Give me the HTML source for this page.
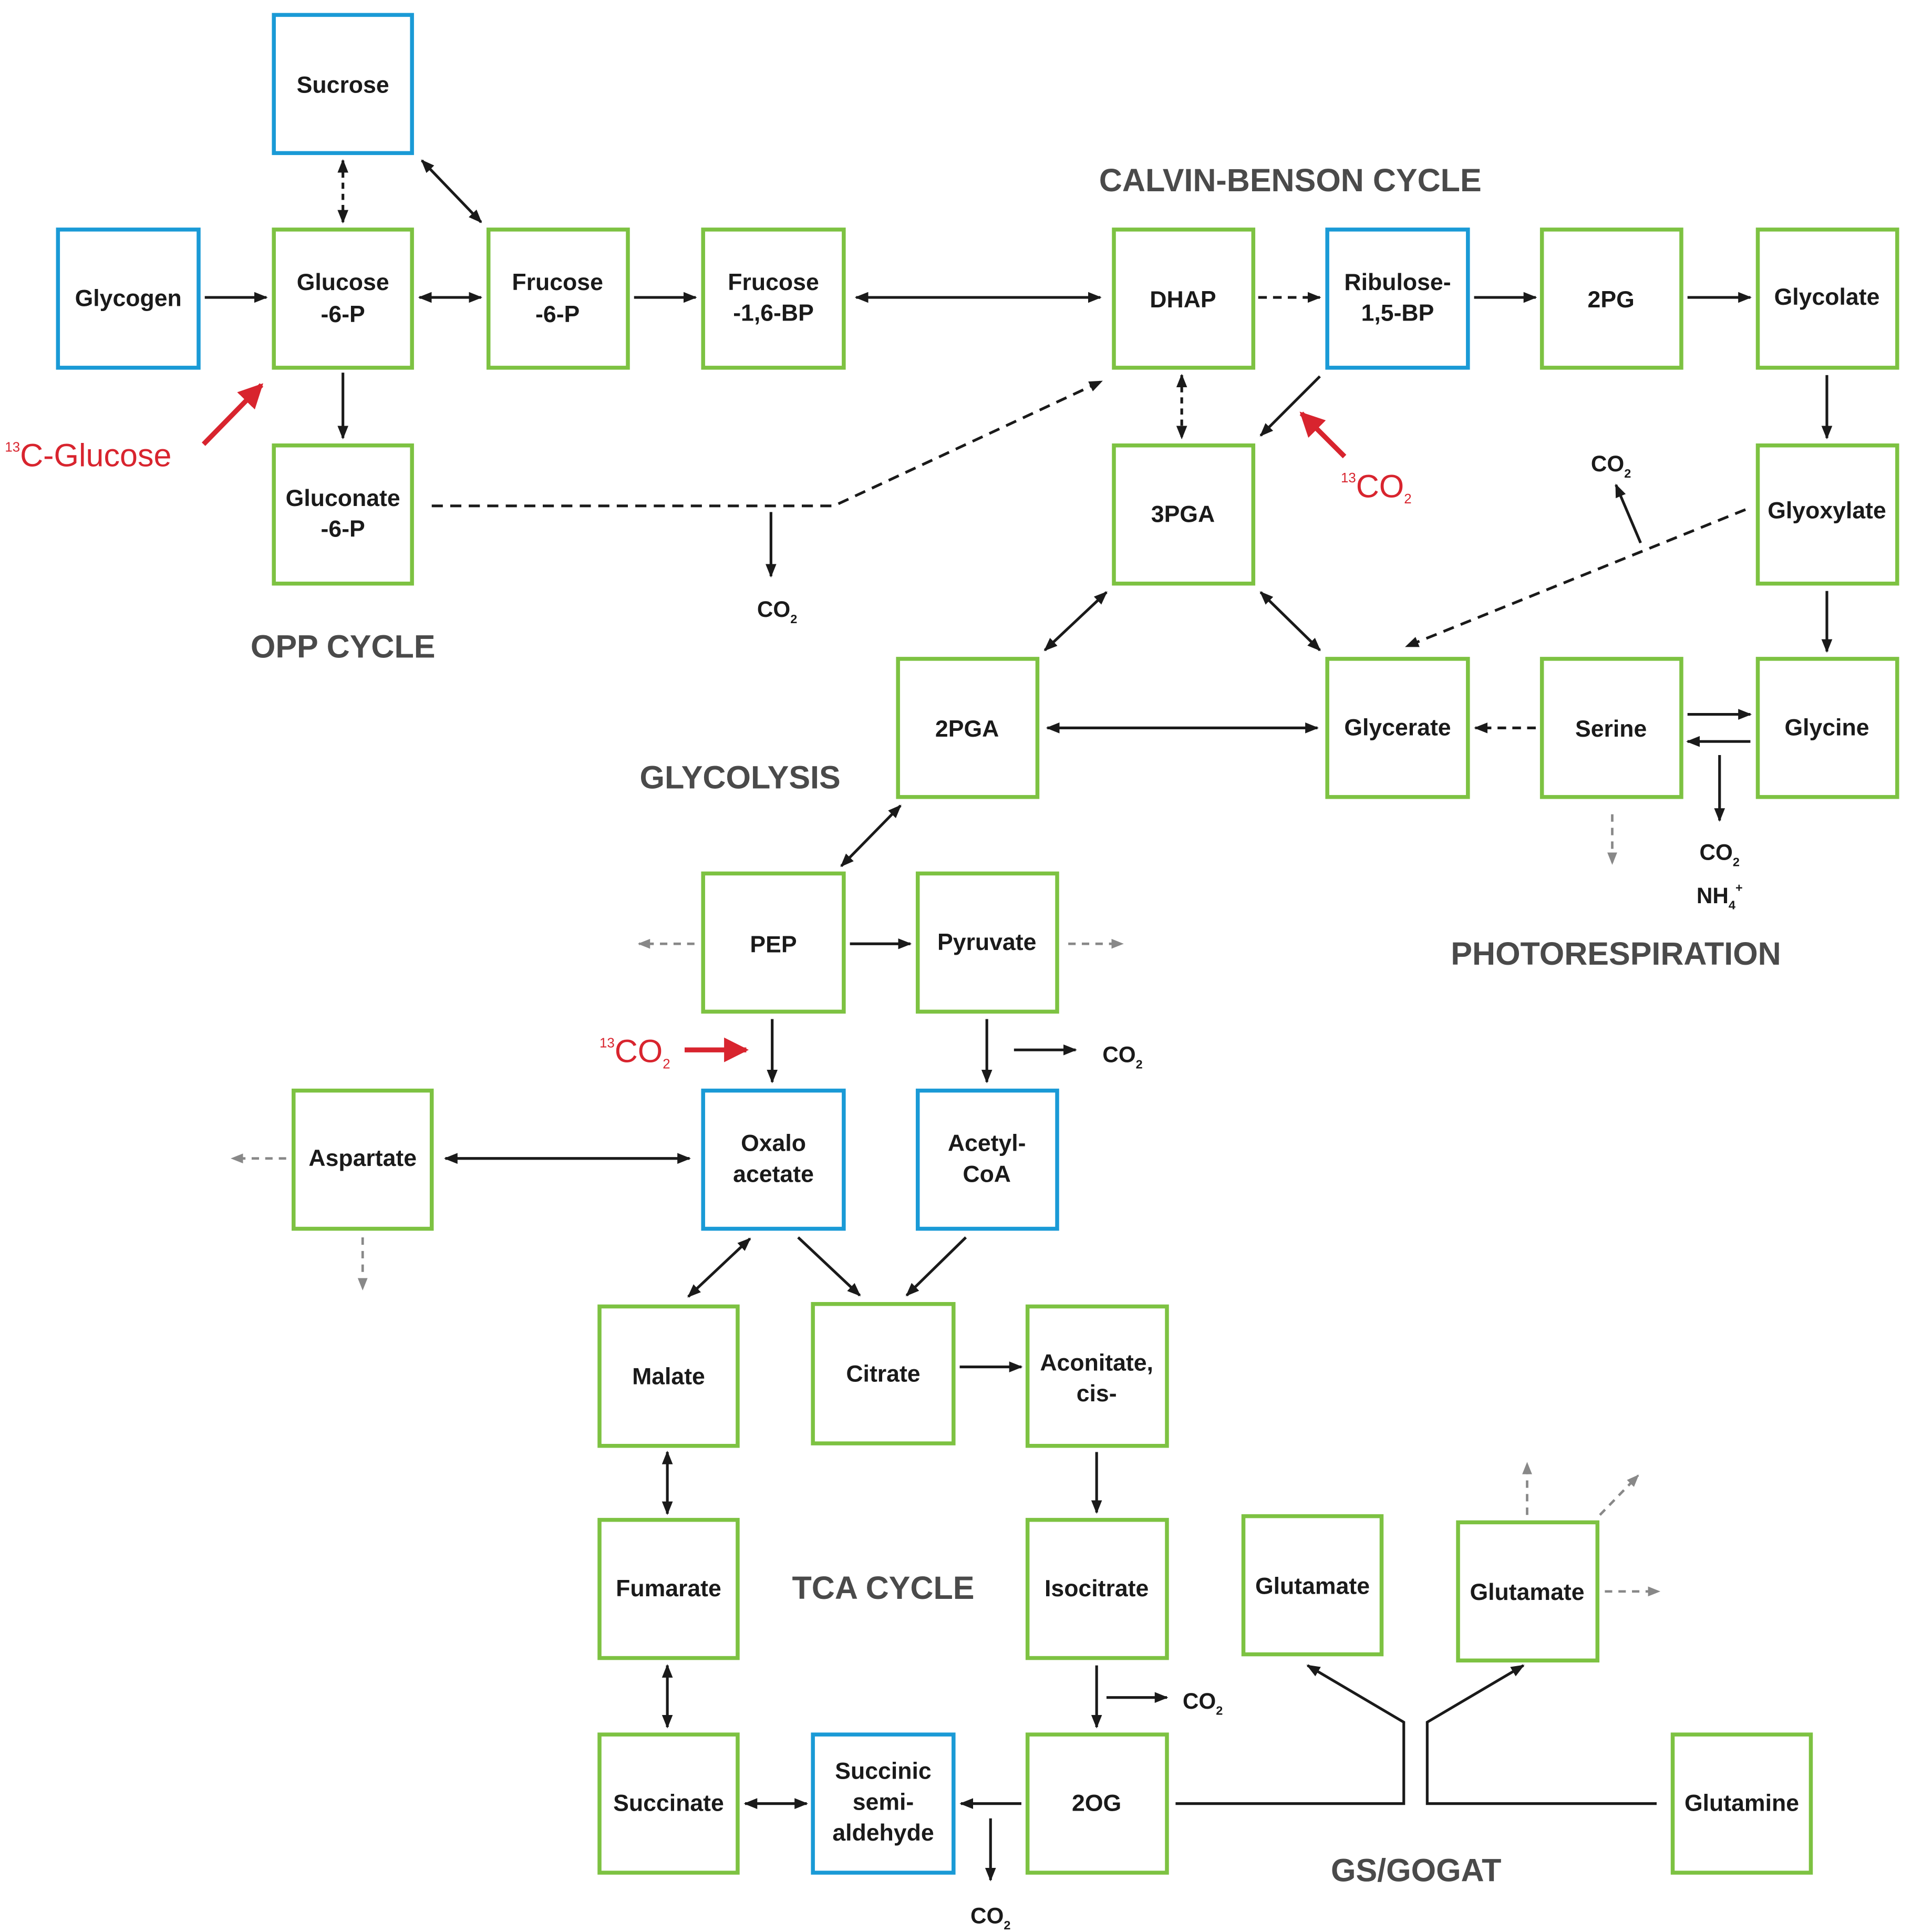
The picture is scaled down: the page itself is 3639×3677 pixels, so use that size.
<!DOCTYPE html>
<html><head><meta charset="utf-8"><style>
html,body{margin:0;padding:0;background:#fff}
svg{display:block}
.b{font-family:"Liberation Sans",Arial,sans-serif;font-weight:bold;font-size:19px;fill:#1a1a1a;text-anchor:middle}
.h{font-family:"Liberation Sans",Arial,sans-serif;font-weight:bold;font-size:26px;fill:#4a4a4a;text-anchor:middle}
.c{font-family:"Liberation Sans",Arial,sans-serif;font-weight:bold;font-size:18px;fill:#1a1a1a;text-anchor:middle}
.r{font-family:"Liberation Sans",Arial,sans-serif;font-size:26px;fill:#d8242e}
</style></head><body>
<svg width="3639" height="3677" viewBox="0 0 1550 1566" xmlns="http://www.w3.org/2000/svg">
<defs>
<marker id="a" viewBox="0 0 10 10" refX="9" refY="5" markerWidth="5" markerHeight="5" orient="auto-start-reverse"><path d="M0,1 L10,5 L0,9 z" fill="#1a1a1a"/></marker>
<marker id="g" viewBox="0 0 10 10" refX="9" refY="5" markerWidth="5" markerHeight="5" orient="auto-start-reverse"><path d="M0,1 L10,5 L0,9 z" fill="#888"/></marker>
<marker id="rr" viewBox="0 0 10 10" refX="9" refY="5" markerWidth="5" markerHeight="5" orient="auto"><path d="M0,0 L10,5 L0,10 z" fill="#d8242e"/></marker>
</defs>
<g fill="none" stroke-width="3.2">
<g stroke="#1a9ad6">
<rect x="222" y="12" width="112" height="112"/>
<rect x="47" y="186" width="114" height="112"/>
<rect x="1076" y="186" width="114" height="112"/>
<rect x="570" y="884" width="114" height="112"/>
<rect x="744" y="884" width="113" height="112"/>
<rect x="659" y="1406" width="114" height="112"/>
</g>
<g stroke="#7dc242">
<rect x="222" y="186" width="112" height="112"/>
<rect x="396" y="186" width="113" height="112"/>
<rect x="570" y="186" width="114" height="112"/>
<rect x="903" y="186" width="113" height="112"/>
<rect x="1250" y="186" width="113" height="112"/>
<rect x="1425" y="186" width="113" height="112"/>
<rect x="222" y="361" width="112" height="112"/>
<rect x="903" y="361" width="113" height="112"/>
<rect x="1425" y="361" width="113" height="112"/>
<rect x="728" y="534" width="113" height="112"/>
<rect x="1076" y="534" width="114" height="112"/>
<rect x="1250" y="534" width="113" height="112"/>
<rect x="1425" y="534" width="113" height="112"/>
<rect x="570" y="708" width="114" height="112"/>
<rect x="744" y="708" width="113" height="112"/>
<rect x="238" y="884" width="112" height="112"/>
<rect x="486" y="1059" width="112" height="113"/>
<rect x="659" y="1057" width="114" height="113"/>
<rect x="833" y="1059" width="113" height="113"/>
<rect x="486" y="1232" width="112" height="112"/>
<rect x="833" y="1232" width="113" height="112"/>
<rect x="1008" y="1229" width="112" height="112"/>
<rect x="1182" y="1234" width="113" height="112"/>
<rect x="486" y="1406" width="112" height="112"/>
<rect x="833" y="1406" width="113" height="112"/>
<rect x="1356" y="1406" width="112" height="112"/>
</g>
</g>
<text class="b" x="278" y="75">Sucrose</text>
<text class="b" x="104" y="248">Glycogen</text>
<text class="b" x="278" y="235">Glucose</text><text class="b" x="278" y="261">-6-P</text>
<text class="b" x="452" y="235">Frucose</text><text class="b" x="452" y="261">-6-P</text>
<text class="b" x="627" y="235">Frucose</text><text class="b" x="627" y="260">-1,6-BP</text>
<text class="b" x="959" y="249">DHAP</text>
<text class="b" x="1133" y="235">Ribulose-</text><text class="b" x="1133" y="260">1,5-BP</text>
<text class="b" x="1306" y="249">2PG</text>
<text class="b" x="1481" y="247">Glycolate</text>
<text class="b" x="278" y="410">Gluconate</text><text class="b" x="278" y="435">-6-P</text>
<text class="b" x="959" y="423">3PGA</text>
<text class="b" x="1481" y="420">Glyoxylate</text>
<text class="b" x="784" y="597">2PGA</text>
<text class="b" x="1133" y="596">Glycerate</text>
<text class="b" x="1306" y="597">Serine</text>
<text class="b" x="1481" y="596">Glycine</text>
<text class="b" x="627" y="772">PEP</text>
<text class="b" x="800" y="770">Pyruvate</text>
<text class="b" x="294" y="945">Aspartate</text>
<text class="b" x="627" y="933">Oxalo</text><text class="b" x="627" y="958">acetate</text>
<text class="b" x="800" y="933">Acetyl-</text><text class="b" x="800" y="958">CoA</text>
<text class="b" x="542" y="1122">Malate</text>
<text class="b" x="716" y="1120">Citrate</text>
<text class="b" x="889" y="1111">Aconitate,</text><text class="b" x="889" y="1136">cis-</text>
<text class="b" x="542" y="1294">Fumarate</text>
<text class="b" x="889" y="1294">Isocitrate</text>
<text class="b" x="1064" y="1292">Glutamate</text>
<text class="b" x="1238" y="1297">Glutamate</text>
<text class="b" x="542" y="1468">Succinate</text>
<text class="b" x="716" y="1442">Succinic</text><text class="b" x="716" y="1467">semi-</text><text class="b" x="716" y="1492">aldehyde</text>
<text class="b" x="889" y="1468">2OG</text>
<text class="b" x="1412" y="1468">Glutamine</text>

<text class="h" x="1046" y="155">CALVIN-BENSON CYCLE</text>
<text class="h" x="278" y="533">OPP CYCLE</text>
<text class="h" x="600" y="639">GLYCOLYSIS</text>
<text class="h" x="1310" y="782">PHOTORESPIRATION</text>
<text class="h" x="716" y="1296">TCA CYCLE</text>
<text class="h" x="1148" y="1525">GS/GOGAT</text>

<text class="c" x="630" y="500">CO<tspan font-size="10" dy="5">2</tspan></text>
<text class="c" x="1306" y="382">CO<tspan font-size="10" dy="5">2</tspan></text>
<text class="c" x="1394" y="697">CO<tspan font-size="10" dy="5">2</tspan></text>
<text class="c" x="1394" y="732">NH<tspan font-size="10" dy="5">4</tspan><tspan font-size="10" dy="-14">+</tspan></text>
<text class="c" x="910" y="861">CO<tspan font-size="10" dy="5">2</tspan></text>
<text class="c" x="975" y="1385">CO<tspan font-size="10" dy="5">2</tspan></text>
<text class="c" x="803" y="1559">CO<tspan font-size="10" dy="5">2</tspan></text>

<text class="r" x="4" y="378"><tspan font-size="11" dy="-12">13</tspan><tspan dy="12">C-Glucose</tspan></text>
<text class="r" x="1087" y="403"><tspan font-size="11" dy="-12">13</tspan><tspan dy="12">CO</tspan><tspan font-size="11" dy="5">2</tspan></text>
<text class="r" x="486" y="861"><tspan font-size="11" dy="-12">13</tspan><tspan dy="12">CO</tspan><tspan font-size="11" dy="5">2</tspan></text>

<g stroke="#1a1a1a" stroke-width="2.2" fill="none">
<line x1="278" y1="130" x2="278" y2="180" stroke-dasharray="5,4" marker-start="url(#a)" marker-end="url(#a)"/>
<line x1="342" y1="130" x2="390" y2="180" marker-start="url(#a)" marker-end="url(#a)"/>
<line x1="166" y1="241" x2="216" y2="241" marker-end="url(#a)"/>
<line x1="340" y1="241" x2="390" y2="241" marker-start="url(#a)" marker-end="url(#a)"/>
<line x1="514" y1="241" x2="564" y2="241" marker-end="url(#a)"/>
<line x1="694" y1="241" x2="892" y2="241" marker-start="url(#a)" marker-end="url(#a)"/>
<line x1="1020" y1="241" x2="1070" y2="241" stroke-dasharray="7,5" marker-end="url(#a)"/>
<line x1="1195" y1="241" x2="1245" y2="241" marker-end="url(#a)"/>
<line x1="1368" y1="241" x2="1419" y2="241" marker-end="url(#a)"/>
<line x1="278" y1="302" x2="278" y2="355" marker-end="url(#a)"/>
<polyline points="350,410 676,410 893,309" stroke-dasharray="9,6" marker-end="url(#a)"/>
<line x1="625" y1="415" x2="625" y2="467" marker-end="url(#a)"/>
<line x1="958" y1="304" x2="958" y2="355" stroke-dasharray="5,4" marker-start="url(#a)" marker-end="url(#a)"/>
<line x1="1070" y1="305" x2="1022" y2="353" marker-end="url(#a)"/>
<line x1="1481" y1="304" x2="1481" y2="355" marker-end="url(#a)"/>
<line x1="1481" y1="479" x2="1481" y2="528" marker-end="url(#a)"/>
<line x1="1415" y1="413" x2="1140" y2="524" stroke-dasharray="9,6" marker-end="url(#a)"/>
<line x1="1330" y1="440" x2="1310" y2="393" marker-end="url(#a)"/>
<line x1="897" y1="480" x2="847" y2="527" marker-start="url(#a)" marker-end="url(#a)"/>
<line x1="1022" y1="480" x2="1070" y2="527" marker-start="url(#a)" marker-end="url(#a)"/>
<line x1="849" y1="590" x2="1068" y2="590" marker-start="url(#a)" marker-end="url(#a)"/>
<line x1="1245" y1="590" x2="1196" y2="590" stroke-dasharray="7,5" marker-end="url(#a)"/>
<line x1="1368" y1="579" x2="1419" y2="579" marker-end="url(#a)"/>
<line x1="1419" y1="601" x2="1368" y2="601" marker-end="url(#a)"/>
<line x1="1394" y1="612" x2="1394" y2="665" marker-end="url(#a)"/>
<line x1="730" y1="653" x2="682" y2="702" marker-start="url(#a)" marker-end="url(#a)"/>
<line x1="689" y1="765" x2="738" y2="765" marker-end="url(#a)"/>
<line x1="626" y1="826" x2="626" y2="877" marker-end="url(#a)"/>
<line x1="800" y1="826" x2="800" y2="877" marker-end="url(#a)"/>
<line x1="822" y1="851" x2="872" y2="851" marker-end="url(#a)"/>
<line x1="361" y1="939" x2="559" y2="939" marker-start="url(#a)" marker-end="url(#a)"/>
<line x1="608" y1="1004" x2="558" y2="1051" marker-start="url(#a)" marker-end="url(#a)"/>
<line x1="647" y1="1003" x2="697" y2="1050" marker-end="url(#a)"/>
<line x1="783" y1="1003" x2="735" y2="1050" marker-end="url(#a)"/>
<line x1="778" y1="1108" x2="828" y2="1108" marker-end="url(#a)"/>
<line x1="889" y1="1177" x2="889" y2="1226" marker-end="url(#a)"/>
<line x1="541" y1="1177" x2="541" y2="1227" marker-start="url(#a)" marker-end="url(#a)"/>
<line x1="541" y1="1350" x2="541" y2="1400" marker-start="url(#a)" marker-end="url(#a)"/>
<line x1="889" y1="1350" x2="889" y2="1400" marker-end="url(#a)"/>
<line x1="897" y1="1376" x2="946" y2="1376" marker-end="url(#a)"/>
<line x1="828" y1="1462" x2="779" y2="1462" marker-end="url(#a)"/>
<line x1="654" y1="1462" x2="604" y2="1462" marker-start="url(#a)" marker-end="url(#a)"/>
<line x1="803" y1="1474" x2="803" y2="1524" marker-end="url(#a)"/>
<polyline points="953,1462 1138,1462 1138,1396 1060,1350" marker-end="url(#a)"/>
<polyline points="1343,1462 1157,1462 1157,1396 1235,1350" marker-end="url(#a)"/>
</g>
<g stroke="#888" stroke-width="2" fill="none" stroke-dasharray="6,5">
<line x1="1307" y1="660" x2="1307" y2="700" marker-end="url(#g)"/>
<line x1="563" y1="765" x2="518" y2="765" marker-end="url(#g)"/>
<line x1="866" y1="765" x2="910" y2="765" marker-end="url(#g)"/>
<line x1="232" y1="939" x2="188" y2="939" marker-end="url(#g)"/>
<line x1="294" y1="1003" x2="294" y2="1045" marker-end="url(#g)"/>
<line x1="1238" y1="1228" x2="1238" y2="1186" marker-end="url(#g)"/>
<line x1="1297" y1="1228" x2="1328" y2="1196" marker-end="url(#g)"/>
<line x1="1301" y1="1290" x2="1345" y2="1290" marker-end="url(#g)"/>
</g>
<g stroke="#d8242e" stroke-width="4" fill="none">
<line x1="165" y1="360" x2="212" y2="312" marker-end="url(#rr)"/>
<line x1="1090" y1="370" x2="1055" y2="335" marker-end="url(#rr)"/>
<line x1="555" y1="851" x2="605" y2="851" marker-end="url(#rr)"/>
</g>
</svg>
</body></html>
